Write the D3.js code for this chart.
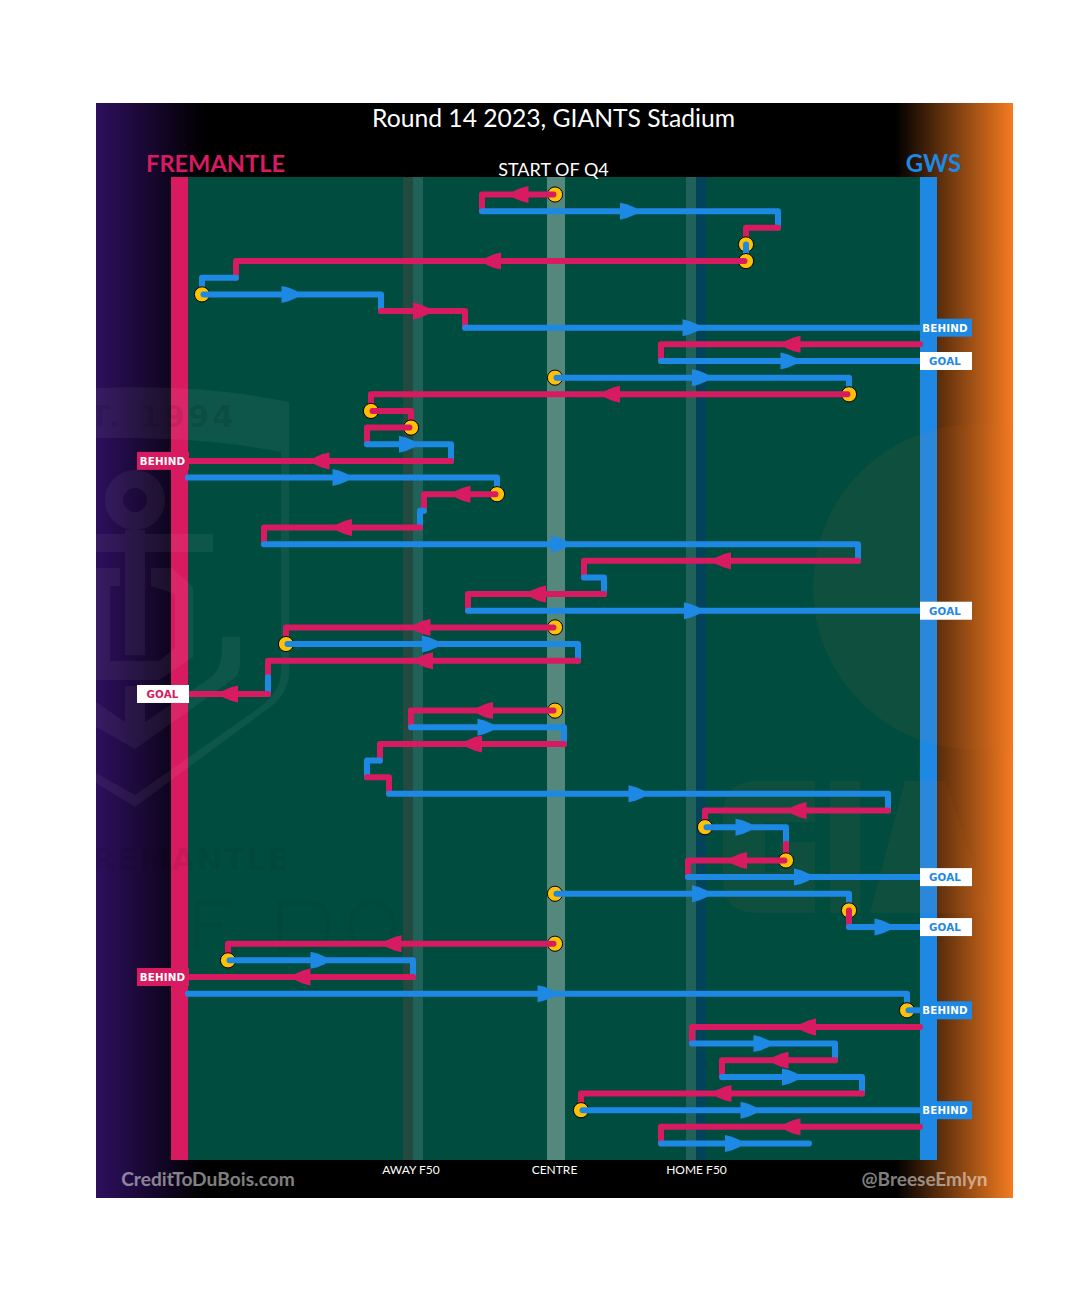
<!DOCTYPE html>
<html><head><meta charset="utf-8">
<script src="https://cdnjs.cloudflare.com/ajax/libs/d3/7.8.5/d3.min.js"></script>
<style>html,body{margin:0;padding:0;background:#fff}svg{display:block}</style></head>
<body><div id="chart"></div>
<script>
// Chain rows: team, from and to are field positions measured from the Fremantle goal line
const teams = ["F","G","F","G","F","G","G","F","G","F","G","G","F","F","F","G","F","G","F","G","F","G","F","G","F","G","F","G","F","G","F","F","G","F","G","F","G","F","G","F","F","G","G","F","G","F","G","F","G","G","F","G","F","G","F","G","F","G"];
const fromPos = [367,294,590,558,558,48,14,193,277,732,473,367,661,183,223,179,263,0,309,236,232,76,670,396,416,280,367,98,390,80,80,367,223,376,192,179,201,700,517,598,598,500,367,661,661,367,40,225,0,719,732,504,647,534,674,393,732,473];
const toPos   = [294,590,558,558,48,14,193,277,732,473,732,661,183,223,179,263,0,309,236,232,76,670,396,416,280,732,98,390,80,80,0,223,376,192,179,201,700,517,598,598,500,732,661,661,732,40,225,0,719,732,504,647,534,674,393,732,473,621];
const stoppageRows = [0,3,4,6,11,12,13,14,18,26,27,31,38,40,42,43,45,46,49,55];
const scoreRows = [8,10,16,25,30,41,44,47,49,55];
const scoreLabels = ["BEHIND","GOAL","BEHIND","GOAL","GOAL","GOAL","GOAL","BEHIND","BEHIND","BEHIND"];
const zoneLabels = ["AWAY F50","CENTRE","HOME F50"];
const zonePos = [223,366.5,508.5];

const W=1080,H=1315;
const C={red:"#d81b60",blue:"#1e88e5",yellow:"#ffc107",field:"#004d40",font:"Lato, 'Open Sans', sans-serif"};
const svg=d3.select("#chart").append("svg").attr("width",W).attr("height",H);
const x=d3.scaleLinear().domain([0,732]).range([188,920]);
const y=d3.scaleLinear().domain([0,teams.length-1]).range([194.5,1143.5]);
const col=t=>t==="F"?C.red:C.blue;

// background
const defs=svg.append("defs");
const lg=defs.append("linearGradient").attr("id","bgL");
lg.append("stop").attr("offset",0).attr("stop-color","#2e0f5e");
lg.append("stop").attr("offset",1).attr("stop-color","#000");
const rg=defs.append("linearGradient").attr("id","bgR");
rg.append("stop").attr("offset",0).attr("stop-color","#000");
rg.append("stop").attr("offset",1).attr("stop-color","#f47b20");
defs.append("clipPath").attr("id","panel").append("rect").attr("x",96).attr("y",103).attr("width",917).attr("height",1095);
svg.append("rect").attr("x",96).attr("y",103).attr("width",917).attr("height",1095).attr("fill","#000");
svg.append("rect").attr("x",96).attr("y",103).attr("width",108).attr("height",1095).attr("fill","url(#bgL)");
svg.append("rect").attr("x",896).attr("y",103).attr("width",117).attr("height",1095).attr("fill","url(#bgR)");

// field
const fieldTop=177,fieldBot=1160;
svg.append("rect").attr("x",188).attr("y",fieldTop).attr("width",732).attr("height",fieldBot-fieldTop).attr("fill",C.field);
[[403,10,"#224a3e"],[413,10,"#20625a"],[547,18,"#55887d"],[686,10,"#20625a"],[696,10,"#024359"]].forEach(b=>{
  svg.append("rect").attr("x",b[0]).attr("y",fieldTop).attr("width",b[1]).attr("height",fieldBot-fieldTop).attr("fill",b[2]);
});
svg.append("rect").attr("x",171).attr("y",fieldTop).attr("width",17).attr("height",fieldBot-fieldTop).attr("fill",C.red);
svg.append("rect").attr("x",920).attr("y",fieldTop).attr("width",17).attr("height",fieldBot-fieldTop).attr("fill",C.blue);

// faint club logos
const wm=svg.append("g").attr("clip-path","url(#panel)");
const wf="rgba(255,255,255,0.05)", wo="rgba(244,123,32,0.06)";
wm.append("path").attr("fill",wf).attr("d","M96,388 C170,385 230,390 289,402 L289,673 C289,690 278,703 262,713 L135,807 L96,783 L96,773 L135,795 L256,710 C272,698 281,688 281,670 L281,452 C220,440 170,438 96,438 Z");
wm.append("path").attr("fill",wf).attr("fill-rule","evenodd").attr("d","M135,470 a30,30 0 1,0 0.01,0 Z M135,488 a12,12 0 1,1 -0.01,0 Z");
wm.append("path").attr("fill",wf).attr("d","M125,530 L145,530 L145,534 L213,534 L213,552 L145,552 L145,655 L125,655 L125,552 L96,552 L96,534 L125,534 Z");
wm.append("path").attr("fill",wf).attr("d","M96,568 L120,568 L120,586 L110,586 L110,661 L159,661 L175,648 L175,594 L151,586 L151,568 L172,568 L193,587 L193,657 L159,680 L96,680 Z");
wm.append("path").attr("fill",wf).attr("d","M96,702 L125,722 L125,686 L145,686 L145,722 L210,678 C219,672 222,660 222,647 L222,637 L240,637 L240,665 C240,672 235,678 229,682 L135,749 L96,727 Z");
wm.append("circle").attr("cx",976).attr("cy",587).attr("r",163).attr("fill",wo);
wm.append("path").attr("fill",wo).attr("d","M723,815 Q723,781 757,781 L815,781 L815,822 L765,822 L765,872 L780,872 L780,842 L815,842 L815,913 L757,913 Q723,913 723,880 Z M830,781 L860,781 L860,913 L830,913 Z M905,781 L945,781 L990,913 L870,913 Z");
const dk="rgba(0,0,0,0.05)";
wm.append("path").attr("fill","none").attr("stroke",dk).attr("stroke-width",5)
  .attr("d","M197,950 L197,903 L230,903 M197,925 L222,925 M280,950 L280,903 L310,903 Q328,903 328,926 Q328,950 310,950 Z M350,926 a22,24 0 1,0 44,0 a22,24 0 1,0 -44,0");
const faint=(s,px,py,size,sp,o)=>wm.append("text").attr("x",px).attr("y",py).attr("text-anchor","end")
  .attr("font-family","'DejaVu Sans',sans-serif").attr("font-weight","bold").attr("font-size",size)
  .attr("letter-spacing",sp).attr("fill",`rgba(0,0,0,${o})`).text(s);
faint("FREMANTLE",290,870,30,2,0.08);
faint("EST.",123,427,30,3,0.1);
faint("1994",237,427,30,3.5,0.1);

// plays: drawn in sequence, so each stoppage dot covers the connector that reaches it
const rowPath=i=>{
  const p=d3.path();
  const dir=Math.sign(toPos[i]-fromPos[i]);
  const inset=stoppageRows.includes(i)?1.5*dir:0;
  p.moveTo(x(fromPos[i])+inset,y(i));
  p.lineTo(x(toPos[i]),y(i));
  const ends=scoreRows.includes(i)||i===teams.length-1;
  if(!ends){ p.lineTo(x(toPos[i]),y(i+1)); }
  return p.toString();
};
const rows=d3.range(teams.length);
const play=svg.append("g").selectAll("g").data(rows).join("g");
play.filter(d=>stoppageRows.includes(d)).append("circle")
  .attr("cx",d=>x(fromPos[d])).attr("cy",d=>y(d)).attr("r",7.6)
  .attr("fill",C.yellow).attr("stroke","#000").attr("stroke-width",1);
play.append("path")
  .attr("d",rowPath).attr("fill","none").attr("stroke",d=>col(teams[d]))
  .attr("stroke-width",6).attr("stroke-linecap","round").attr("stroke-linejoin","round");
play.filter(d=>Math.abs(toPos[d]-fromPos[d])>=60).append("path")
  .attr("fill",d=>col(teams[d]))
  .attr("transform",d=>`translate(${(x(fromPos[d])+x(toPos[d]))/2},${y(d)}) scale(${toPos[d]>fromPos[d]?1:-1},1)`)
  .attr("d","M-10,-8.5 L-3,-6.8 L4,-3.8 L10,0 L4,3.8 L-3,6.8 L-10,8.5 Z");

// score labels
const lab=svg.append("g").selectAll("g").data(scoreRows).join("g")
  .attr("transform",d=>`translate(${toPos[d]>300?946:163},${y(d)})`);
lab.append("rect").attr("x",-26).attr("y",-9).attr("width",52).attr("height",18)
  .attr("fill",(d,i)=>scoreLabels[i]==="GOAL"?"#fff":col(teams[d]));
lab.append("text").attr("text-anchor","middle").attr("x",d=>toPos[d]>300?-1:-0.5).attr("y",4).attr("font-family","'DejaVu Sans',sans-serif")
  .attr("font-weight","bold").attr("font-size",10.3).attr("letter-spacing",0.2)
  .attr("fill",(d,i)=>scoreLabels[i]==="GOAL"?col(teams[d]):"#fff")
  .text((d,i)=>scoreLabels[i]);

// text
const t=(s,px,py,size,fill,o={})=>svg.append("text").attr("x",px).attr("y",py).attr("font-size",size)
  .attr("font-family",C.font).attr("fill",fill).attr("text-anchor",o.anchor||"middle").attr("font-weight",o.weight||"normal").text(s);
t("Round 14 2023, GIANTS Stadium",553.5,127,24.7,"#fff");
t("START OF Q4",553.5,176,18,"#fff");
t("FREMANTLE",215.5,171.5,23.6,C.red,{weight:"bold"});
t("GWS",933.5,171.5,24,C.blue,{weight:"bold"});
zoneLabels.forEach((s,i)=>t(s,x(zonePos[i]),1174,12,"#fff"));
t("CreditToDuBois.com",208,1186,19.2,"rgba(255,255,255,0.5)",{weight:"bold"});
t("@BreeseEmlyn",924.5,1186,19,"rgba(255,255,255,0.5)",{weight:"bold"});
</script></body></html>
